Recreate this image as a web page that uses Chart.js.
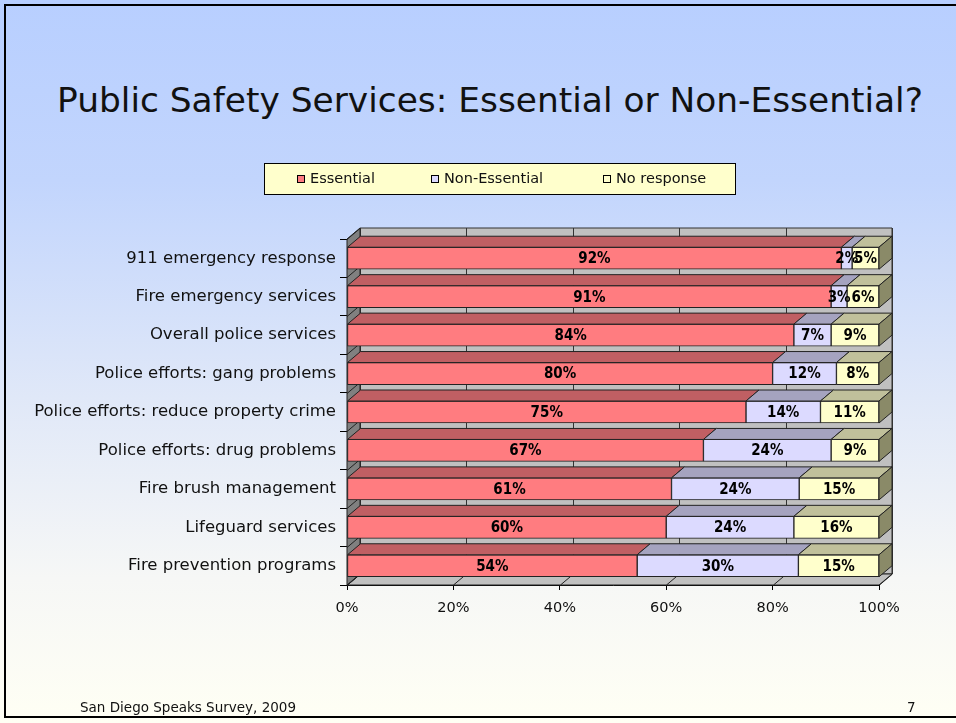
<!DOCTYPE html>
<html>
<head>
<meta charset="utf-8">
<title>Public Safety Services</title>
<script src="https://cdn.jsdelivr.net/npm/chart.js@4/dist/chart.umd.min.js"></script>
<style>
  html, body { margin: 0; padding: 0; }
  body {
    width: 956px; height: 723px; overflow: hidden; position: relative;
    background: linear-gradient(to bottom, #b8cfff 0%, #c2d5fd 25%, #e0e8f8 55%, #f6f7f6 80%, #fffff4 100%);
    font-family: "DejaVu Sans", sans-serif;
  }
  #frame {
    position: absolute; left: 4px; top: 4px; width: 970px; height: 714px;
    border: 2px solid #000; box-sizing: border-box;
  }
  #title {
    position: absolute; left: 0; width: 980px; top: 80px; line-height: 40px;
    text-align: center; font-size: 34.4px; color: #111; white-space: nowrap;
  }
  #source { position: absolute; left: 80px; top: 699px; font-size: 13.5px; color: #111; }
  #page { position: absolute; left: 907px; top: 699px; font-size: 13.5px; color: #111; }
  #wrap { position: absolute; left: 0; top: 0; width: 956px; height: 723px; }
</style>
</head>
<body>
<div id="frame"></div>
<div id="title">Public Safety Services: Essential or Non-Essential?</div>
<div id="wrap"><canvas id="chart" width="956" height="723"></canvas></div>
<div id="source">San Diego Speaks Survey, 2009</div>
<div id="page">7</div>

<script>
var categories = [
    '911 emergency response',
    'Fire emergency services',
    'Overall police services',
    'Police efforts: gang problems',
    'Police efforts: reduce property crime',
    'Police efforts: drug problems',
    'Fire brush management',
    'Lifeguard services',
    'Fire prevention programs'
];
var seriesNames = ['Essential', 'Non-Essential', 'No response'];
var essential    = [92, 91, 84, 80, 75, 67, 61, 60, 54];
var nonEssential = [2, 3, 7, 12, 14, 24, 24, 24, 30];
var noResponse   = [5, 6, 9, 8, 11, 9, 15, 16, 15];
var xTicks = [0, 20, 40, 60, 80, 100];

// front / top / side colours for each series
var frontColors = ['#ff7c80', '#dcdaff', '#ffffcc'];
var topColors   = ['#c05f63', '#a5a3bf', '#c0c09b'];
var sideColors  = ['#8f4a4c', '#7c7a90', '#8a8a68'];

var DX = 13, DY = 11;   // depth of the 3d effect
var FONT = '"DejaVu Sans", sans-serif';
var LABEL_FONT = '"DejaVu Sans Condensed", "DejaVu Sans", sans-serif';

var rawSeries = [essential, nonEssential, noResponse];
var rowTotals = categories.map(function (c, i) {
    return essential[i] + nonEssential[i] + noResponse[i];
});

// 100% stacked: each row is scaled to its own total
var datasets = rawSeries.map(function (values, s) {
    return {
        label: seriesNames[s],
        raw: values,
        data: values.map(function (v, i) { return v / rowTotals[i] * 100; }),
        backgroundColor: frontColors[s],
        borderColor: '#222',
        borderWidth: 1,
        borderSkipped: false,
        barThickness: 22
    };
});

function poly(ctx, pts, fill, stroke) {
    ctx.beginPath();
    ctx.moveTo(pts[0][0], pts[0][1]);
    for (var i = 1; i < pts.length; i++) ctx.lineTo(pts[i][0], pts[i][1]);
    ctx.closePath();
    if (fill) { ctx.fillStyle = fill; ctx.fill(); }
    if (stroke) { ctx.strokeStyle = stroke; ctx.lineWidth = 1; ctx.stroke(); }
}

// walls and floor behind the bars
var wallsPlugin = {
    id: 'walls',
    beforeDatasetsDraw: function (chart) {
        var ctx = chart.ctx, a = chart.chartArea, xs = chart.scales.x;
        var L = a.left, R = a.right, T = a.top, B = a.bottom;
        ctx.save();
        // back wall
        poly(ctx, [[L + DX, T - DY], [R + DX, T - DY], [R + DX, B - DY], [L + DX, B - DY]], '#c0c0c0', '#333');
        xTicks.forEach(function (t) {
            var px = Math.round(xs.getPixelForValue(t)) + 0.5;
            ctx.beginPath();
            ctx.moveTo(px + DX, T - DY);
            ctx.lineTo(px + DX, B - DY);
            ctx.strokeStyle = '#333';
            ctx.stroke();
        });
        // floor
        poly(ctx, [[L, B], [R, B], [R + DX, B - DY], [L + DX, B - DY]], '#c0c0c0', '#222');
        xTicks.forEach(function (t) {
            var px = Math.round(xs.getPixelForValue(t)) + 0.5;
            ctx.beginPath();
            ctx.moveTo(px, B);
            ctx.lineTo(px + DX, B - DY);
            ctx.strokeStyle = '#222';
            ctx.stroke();
        });
        // left wall
        poly(ctx, [[L, T], [L + DX, T - DY], [L + DX, B - DY], [L, B]], '#808080', '#222');
        for (var i = 0; i <= categories.length; i++) {
            var yb = Math.round(T + (B - T) * i / categories.length) + 0.5;
            ctx.beginPath();
            ctx.moveTo(L, yb);
            ctx.lineTo(L + DX, yb - DY);
            ctx.strokeStyle = '#222';
            ctx.stroke();
        }
        ctx.restore();
    },
    afterDatasetsDraw: function (chart) {
        var ctx = chart.ctx;
        var last = chart.data.datasets.length - 1;
        ctx.save();
        chart.data.datasets.forEach(function (ds, s) {
            var meta = chart.getDatasetMeta(s);
            meta.data.forEach(function (el) {
                var p = el.getProps(['x', 'y', 'base', 'height'], true);
                var x0 = Math.min(p.x, p.base), x1 = Math.max(p.x, p.base);
                var yT = p.y - p.height / 2, yB = p.y + p.height / 2;
                poly(ctx, [[x0, yT], [x1, yT], [x1 + DX, yT - DY], [x0 + DX, yT - DY]], topColors[s], '#222');
                if (s === last) {
                    poly(ctx, [[x1, yT], [x1 + DX, yT - DY], [x1 + DX, yB - DY], [x1, yB]], sideColors[s], '#222');
                }
            });
        });
        // value labels
        ctx.font = 'bold 15px ' + LABEL_FONT;
        ctx.fillStyle = '#000';
        ctx.textAlign = 'center';
        ctx.textBaseline = 'middle';
        chart.data.datasets.forEach(function (ds, s) {
            var meta = chart.getDatasetMeta(s);
            meta.data.forEach(function (el, i) {
                var p = el.getProps(['x', 'y', 'base'], true);
                ctx.fillText(ds.raw[i] + '%', (p.x + p.base) / 2, p.y + 1);
            });
        });
        ctx.restore();
    },
    afterDraw: function (chart) {
        // legend box
        var ctx = chart.ctx;
        ctx.save();
        ctx.fillStyle = '#ffffcc';
        ctx.fillRect(264.5, 163.5, 471, 31);
        ctx.strokeStyle = '#000';
        ctx.lineWidth = 1;
        ctx.strokeRect(264.5, 163.5, 471, 31);
        var itemX = [297, 431, 603];
        ctx.font = '14.5px ' + FONT;
        ctx.textBaseline = 'middle';
        ctx.textAlign = 'left';
        chart.data.datasets.forEach(function (ds, s) {
            ctx.fillStyle = frontColors[s];
            ctx.fillRect(itemX[s] + 0.5, 175.5, 7, 7);
            ctx.strokeStyle = '#000';
            ctx.strokeRect(itemX[s] + 0.5, 175.5, 7, 7);
            ctx.fillStyle = '#111';
            ctx.fillText(ds.label, itemX[s] + 13, 179.5);
        });
        ctx.restore();
    }
};

var chart = new Chart(document.getElementById('chart'), {
    type: 'bar',
    data: { labels: categories, datasets: datasets },
    options: {
        indexAxis: 'y',
        responsive: false,
        animation: false,
        layout: { padding: { top: 239, right: 77, left: 0, bottom: 0 } },
        plugins: {
            legend: { display: false },
            title: { display: false },
            tooltip: { enabled: false }
        },
        scales: {
            x: {
                type: 'linear',
                stacked: true,
                min: 0,
                max: 100,
                afterBuildTicks: function (scale) {
                    scale.ticks = xTicks.map(function (v) { return { value: v }; });
                },
                afterFit: function (scale) { scale.height = 138; },
                ticks: {
                    callback: function (v) { return v + '%'; },
                    color: '#111',
                    font: { family: FONT, size: 14.5 },
                    padding: 10
                },
                grid: { drawOnChartArea: false, drawTicks: true, tickLength: 5, color: '#000' },
                border: { color: '#000', width: 1 }
            },
            y: {
                stacked: true,
                afterFit: function (scale) { scale.width = 347; },
                ticks: {
                    color: '#111',
                    font: { family: FONT, size: 16.5 },
                    padding: 4
                },
                grid: { offset: true, drawOnChartArea: false, drawTicks: true, tickLength: 7, color: '#000' },
                border: { color: '#000', width: 1 }
            }
        }
    },
    plugins: [wallsPlugin]
});
</script>
</body>
</html>
